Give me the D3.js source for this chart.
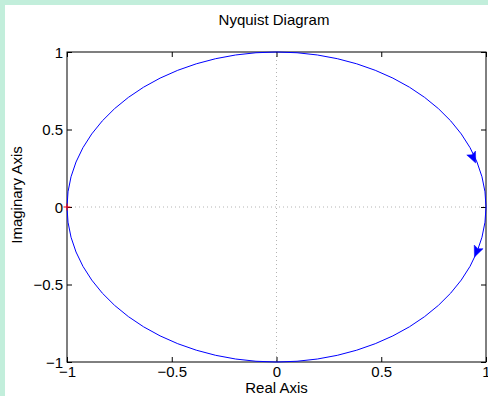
<!DOCTYPE html>
<html>
<head>
<meta charset="utf-8">
<script src="https://cdn.jsdelivr.net/npm/d3@7/dist/d3.min.js"></script>
<style>
  html, body { margin: 0; padding: 0; background: #ffffff; overflow: hidden; }
  svg { display: block; }
  text { font-family: "Liberation Sans", Arial, sans-serif; fill: #000; }
</style>
</head>
<body>
<svg id="chart" width="488" height="396"></svg>
<script>
// Nyquist contour of an all-pass response: unit circle centred at the origin
const circleCenter = [0, 0];
const circleRadius = 1;
// Direction arrows placed on the contour (real, imaginary)
const arrowPoints = [[0.94, 0.316], [0.955, -0.29]];
// Critical point -1 + 0j
const criticalPoint = [-1, 0];
// Axis ticks
const xTicks = [-1, -0.5, 0, 0.5, 1];
const yTicks = [-1, -0.5, 0, 0.5, 1];
const xDomain = [-1, 1];
const yDomain = [-1, 1];

const W = 488, H = 396;
const plot = { left: 67, right: 486, top: 52, bottom: 362 };

const svg = d3.select("#chart");

// Figure background with the mint frame on the top and left edges
svg.append("rect").attr("x", 0).attr("y", 0).attr("width", W).attr("height", H).attr("fill", "#c2eedb");
svg.append("rect").attr("x", 5).attr("y", 5).attr("width", W + 10).attr("height", H + 10).attr("fill", "#ffffff");

const x = d3.scaleLinear().domain(xDomain).range([plot.left, plot.right]);
const y = d3.scaleLinear().domain(yDomain).range([plot.bottom, plot.top]);

const fmt = d => d === 0 ? "0" : (d < 0 ? "\u2212" + Math.abs(d) : String(d));

// Dotted zero lines
const g = svg.append("g");
g.append("line").attr("x1", x(0)).attr("x2", x(0)).attr("y1", y(1)).attr("y2", y(-1))
  .attr("stroke", "#b4b4b4").attr("stroke-width", 1).attr("stroke-dasharray", "1,3");
g.append("line").attr("x1", x(-1)).attr("x2", x(1)).attr("y1", y(0)).attr("y2", y(0))
  .attr("stroke", "#b4b4b4").attr("stroke-width", 1).attr("stroke-dasharray", "1,3");

// Axes with inward ticks on all four sides
const tickLen = 5;
const axBottom = d3.axisBottom(x).tickValues(xTicks).tickSize(-tickLen).tickPadding(5).tickFormat(fmt);
const axTop = d3.axisTop(x).tickValues(xTicks).tickSize(-tickLen).tickFormat("");
const axLeft = d3.axisLeft(y).tickValues(yTicks).tickSize(-tickLen).tickPadding(4).tickFormat(fmt);
const axRight = d3.axisRight(y).tickValues(yTicks).tickSize(-tickLen).tickFormat("");

function styleAxis(sel) {
  sel.select(".domain").remove();
  sel.selectAll(".tick line").attr("stroke", "#000");
  sel.selectAll("text").attr("font-size", 15).attr("font-family", "Liberation Sans, Arial, sans-serif");
}
svg.append("g").attr("transform", `translate(0,${plot.bottom})`).call(axBottom).call(styleAxis)
  .selectAll("text").attr("dy", "0.68em");
svg.append("g").attr("transform", `translate(0,${plot.top})`).call(axTop).call(styleAxis);
svg.append("g").attr("transform", `translate(${plot.left},0)`).call(axLeft).call(styleAxis)
  .selectAll("text").attr("dy", "0.36em");
svg.append("g").attr("transform", `translate(${plot.right},0)`).call(axRight).call(styleAxis);

// Box
svg.append("rect").attr("x", plot.left).attr("y", plot.top)
  .attr("width", plot.right - plot.left).attr("height", plot.bottom - plot.top)
  .attr("fill", "none").attr("stroke", "#000").attr("stroke-width", 1);

// Contour
svg.append("ellipse")
  .attr("cx", x(circleCenter[0])).attr("cy", y(circleCenter[1]))
  .attr("rx", x(circleCenter[0] + circleRadius) - x(circleCenter[0]))
  .attr("ry", y(circleCenter[1] - circleRadius) - y(circleCenter[1]))
  .attr("fill", "none").attr("stroke", "#0000ff").attr("stroke-width", 1);

// Arrowheads pointing clockwise along the contour
arrowPoints.forEach(([re, im]) => {
  const px = x(re), py = y(im);
  // clockwise tangent in data space is (im, -re); convert to screen direction
  const dxs = (x(re + im * 0.01) - px), dys = (y(im - re * 0.01) - py);
  const len = Math.hypot(dxs, dys);
  const ux = dxs / len, uy = dys / len;
  const L = 11, Wd = 4.8;
  const tip = [px + ux * L / 2, py + uy * L / 2];
  const base = [px - ux * L / 2, py - uy * L / 2];
  const pts = [tip,
    [base[0] - uy * Wd, base[1] + ux * Wd],
    [px - ux * 3.5, py - uy * 3.5],
    [base[0] + uy * Wd, base[1] - ux * Wd]];
  svg.append("path").attr("d", d3.line()(pts) + "Z").attr("fill", "#0000ff").attr("stroke", "#0000ff").attr("stroke-width", 0.5);
});

// Critical point marker
const cx0 = x(criticalPoint[0]), cy0 = y(criticalPoint[1]);
svg.append("path").attr("d", `M${cx0 - 3.5},${cy0}H${cx0 + 3.5}M${cx0},${cy0 - 3.5}V${cy0 + 3.5}`)
  .attr("stroke", "#ff0000").attr("stroke-width", 1);

// Titles
svg.append("text").attr("x", 274).attr("y", 25).attr("text-anchor", "middle").attr("font-size", 15).text("Nyquist Diagram");
svg.append("text").attr("x", (plot.left + plot.right) / 2).attr("y", 393).attr("text-anchor", "middle").attr("font-size", 15).text("Real Axis");
svg.append("text").attr("transform", `translate(22,${(plot.top + plot.bottom) / 2 - 12}) rotate(-90)`)
  .attr("text-anchor", "middle").attr("font-size", 15).text("Imaginary Axis");
</script>
</body>
</html>
